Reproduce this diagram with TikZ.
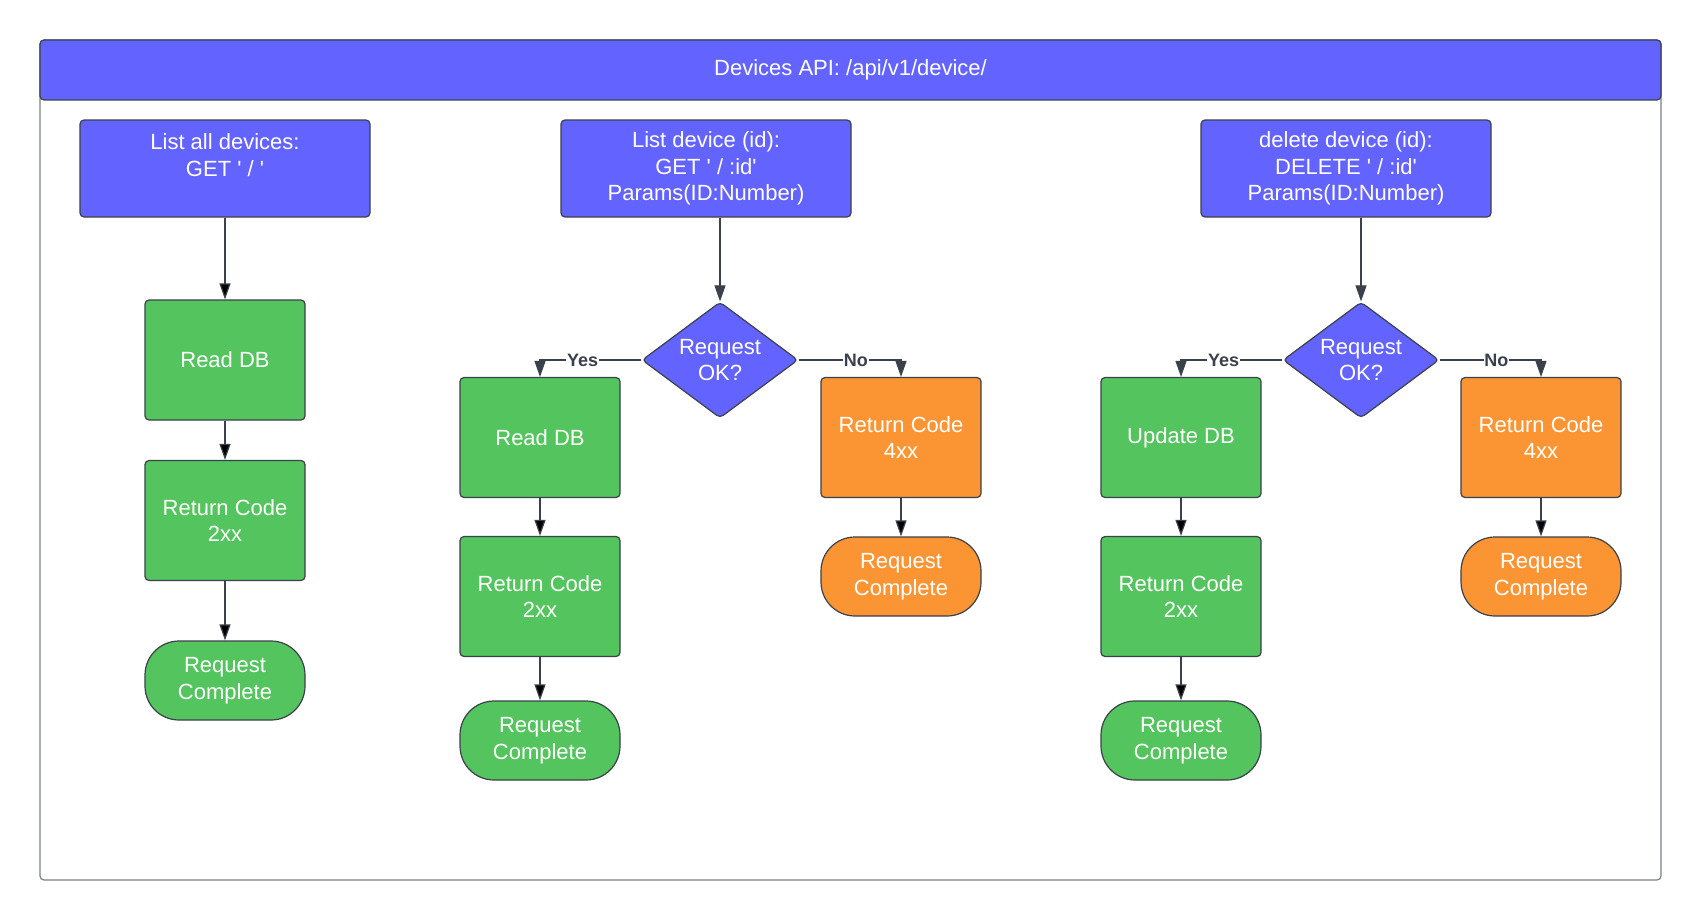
\documentclass[tikz,border=0pt]{standalone}
\usepackage{fontspec}
\setmainfont{Liberation Sans}
\usepackage{xcolor}
\usetikzlibrary{shapes.geometric,arrows.meta}

\definecolor{apiblue}{HTML}{6363FF}
\definecolor{okgreen}{HTML}{54C45E}
\definecolor{errorange}{HTML}{FB9432}
\definecolor{edgegray}{HTML}{3A414A}
\definecolor{framegray}{HTML}{7A7F85}

\newcommand{\tick}{\textquotesingle}

\tikzset{
	base/.style={draw=edgegray, line width=0.6pt, text=white, align=center, inner sep=0pt, font=\fontsize{11}{13.3}\selectfont},
	route/.style={base, fill=apiblue, rounded corners=2pt, minimum width=145pt, minimum height=48.5pt},
	stepok/.style={base, fill=okgreen, rounded corners=2pt, minimum width=80pt, minimum height=60pt},
	steperr/.style={stepok, fill=errorange},
	doneok/.style={base, fill=okgreen, rounded corners=17pt, minimum width=80pt, minimum height=39.5pt},
	doneerr/.style={doneok, fill=errorange},
	check/.style={base, fill=apiblue, diamond, aspect=1.34, inner sep=-1pt, rounded corners=2pt, minimum width=78pt, minimum height=58pt},
	flow/.style={-{Triangle[length=8pt,width=5.5pt]}, draw=edgegray, line width=0.6pt},
	answer/.style={fill=white, text=edgegray, inner sep=0.3pt, font=\fontsize{9}{10}\selectfont\bfseries},
}

\begin{document}
\begin{tikzpicture}[x=0.5pt,y=-0.5pt]
		\useasboundingbox (0,0) rectangle (1700,920);
		\draw[framegray, line width=0.6pt, rounded corners=2pt] (40,40) rectangle (1661,880);
		\node[base, fill=apiblue, rounded corners=2pt, minimum width=810.5pt, minimum height=30pt] (API) at (850.5,70) {Devices API: /api/v1/device/};
		%
		\node[route] (LA) at (225,168.5) {List all devices:\\GET \tick\ / \tick\\~};
		\node[route] (LD) at (706,168.5) {List device (id):\\GET \tick\ / :id\tick\\Params(ID:Number)};
		\node[route] (DD) at (1346,168.5) {delete device (id):\\DELETE \tick\ / :id\tick\\Params(ID:Number)};
		%
		\node[stepok] (RD1) at (225,360) {Read DB};
		\node[stepok] (RC1) at (225,520.5) {Return Code\\2xx};
		\node[doneok] (RQ1) at (225,680.5) {Request\\Complete};
		%
		\node[check] (Q2) at (720,360) {Request\\OK?};
		\node[stepok] (RD2) at (540,437.5) {Read DB};
		\node[stepok] (RC2) at (540,596.5) {Return Code\\2xx};
		\node[doneok] (RQ2) at (540,740.5) {Request\\Complete};
		\node[steperr] (E2) at (901,437.5) {Return Code\\4xx};
		\node[doneerr] (EQ2) at (901,576.5) {Request\\Complete};
		%
		\node[check] (Q3) at (1361,360) {Request\\OK?};
		\node[stepok] (UD3) at (1181,437.5) {Update DB};
		\node[stepok] (RC3) at (1181,596.5) {Return Code\\2xx};
		\node[doneok] (RQ3) at (1181,740.5) {Request\\Complete};
		\node[steperr] (E3) at (1541,437.5) {Return Code\\4xx};
		\node[doneerr] (EQ3) at (1541,576.5) {Request\\Complete};
		%
		\path[flow]
		(LA) edge (RD1)
		(RD1) edge (RC1)
		(RC1) edge (RQ1)
		(RD2) edge (RC2)
		(RC2) edge (RQ2)
		(E2) edge (EQ2)
		(UD3) edge (RC3)
		(RC3) edge (RQ3)
		(E3) edge (EQ3);
		\draw[flow] (LD.south -| Q2) -- (Q2);
		\draw[flow] (DD.south -| Q3) -- (Q3);
		\draw[flow] (Q2.west) -| node[answer, pos=0.29]{Yes} (RD2);
		\draw[flow] (Q2.east) -| node[answer, pos=0.28]{No} (E2);
		\draw[flow] (Q3.west) -| node[answer, pos=0.29]{Yes} (UD3);
		\draw[flow] (Q3.east) -| node[answer, pos=0.28]{No} (E3);
\end{tikzpicture}
\end{document}
